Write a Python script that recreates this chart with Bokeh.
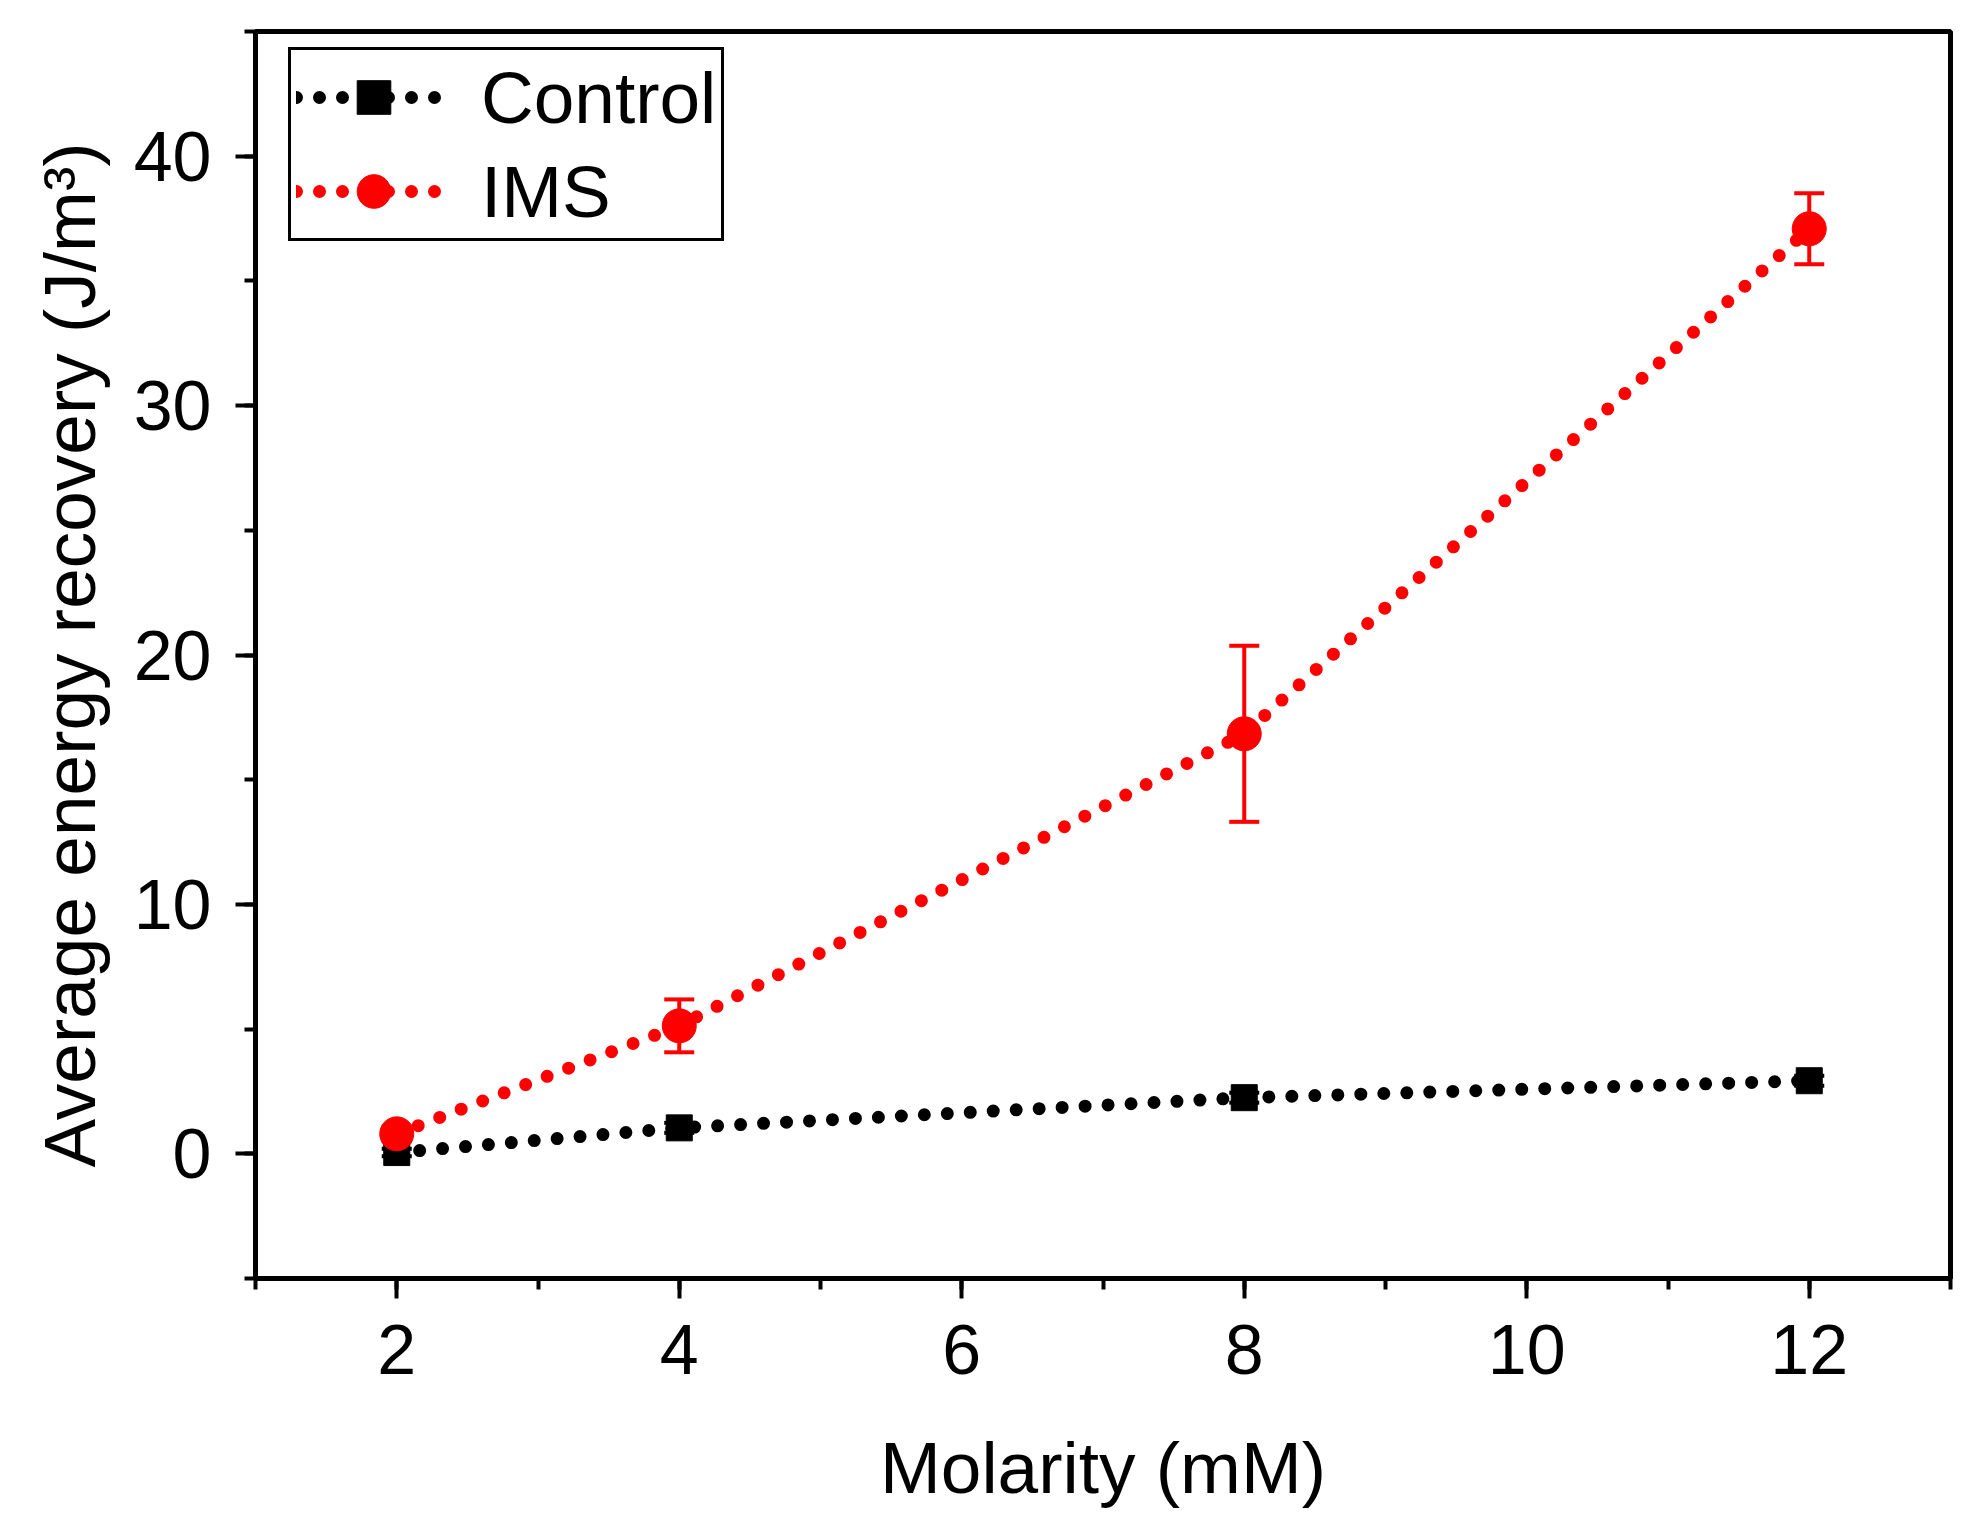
import numpy as np
from bokeh.embed import file_html
from bokeh.models import ColumnDataSource, SingleIntervalTicker, TeeHead, Whisker
from bokeh.plotting import figure
from bokeh.resources import INLINE

# Data
molarity = [2, 4, 8, 12]
control_mean = [0.05, 1.04, 2.25, 2.93]
control_err = [0.15, 0.2, 0.2, 0.2]
ims_mean = [0.8, 5.13, 16.84, 37.09]
ims_err = [0.3, 1.06, 3.53, 1.42]

FONT = "Liberation Sans"
FRAME_H = 1247

p = figure(
    frame_width=1695,
    frame_height=FRAME_H,
    min_border_left=255,
    min_border_right=21,
    min_border_top=31,
    min_border_bottom=246,
    x_range=(1, 13),
    y_range=(-5, 45),
    x_axis_label="Molarity (mM)",
    y_axis_label="Average energy recovery (J/m³)",
    output_backend="svg",
    toolbar_location=None,
    tools="",
)


def add_series(mean, err, color, marker, size, label):
    mean = np.array(mean)
    err = np.array(err)
    src = ColumnDataSource(dict(x=molarity, y=mean, lo=mean - err, hi=mean + err))
    p.line("x", "y", source=src, line_color=color, line_width=13,
           line_dash="0 23", line_cap="round", legend_label=label)
    w = Whisker(base="x", upper="hi", lower="lo", source=src,
                line_color=color, line_width=4,
                upper_head=TeeHead(size=30, line_color=color, line_width=4),
                lower_head=TeeHead(size=30, line_color=color, line_width=4))
    p.add_layout(w)
    p.scatter("x", "y", source=src, marker=marker, size=size,
              fill_color=color, line_color=color, legend_label=label)


add_series(control_mean, control_err, "black", "square", 26, "Control")
add_series(ims_mean, ims_err, "#ff0000", "circle", 34, "IMS")

# axes
p.xaxis.ticker = SingleIntervalTicker(interval=2, num_minor_ticks=2)
p.yaxis.ticker = SingleIntervalTicker(interval=10, num_minor_ticks=2)
for ax in (p.xaxis, p.yaxis):
    ax.axis_line_width = 5
    ax.major_tick_line_width = 4
    ax.minor_tick_line_width = 4
    ax.major_tick_out = 20
    ax.major_tick_in = 0
    ax.minor_tick_out = 11
    ax.minor_tick_in = 0
    ax.major_label_text_font = FONT
    ax.major_label_text_font_size = "70px"
    ax.major_label_text_color = "black"
    ax.axis_label_text_font = FONT
    ax.axis_label_text_font_size = "73px"
    ax.axis_label_text_font_style = "normal"
    ax.axis_label_text_color = "black"
p.xaxis.major_label_standoff = 26
p.yaxis.major_label_standoff = 24
p.xaxis.axis_label_standoff = 50
p.yaxis.axis_label_standoff = 21

p.grid.grid_line_color = None
p.outline_line_color = "black"
p.outline_line_width = 5
p.outline_line_alpha = 1

# legend (location is its bottom-left corner, from the frame's bottom-left)
legend_h = 188
p.legend.location = (33, FRAME_H - 22 - legend_h)
p.legend.border_line_color = "black"
p.legend.border_line_width = 3
p.legend.border_line_alpha = 1
p.legend.background_fill_alpha = 1
p.legend.label_text_font = FONT
p.legend.label_text_font_size = "73px"
p.legend.label_text_color = "black"
p.legend.glyph_width = 155
p.legend.glyph_height = 84
p.legend.label_height = 84
p.legend.label_standoff = 30
p.legend.spacing = 10
p.legend.padding = 5
p.legend.margin = 0

open("out.html", "w").write(file_html(p, INLINE))
